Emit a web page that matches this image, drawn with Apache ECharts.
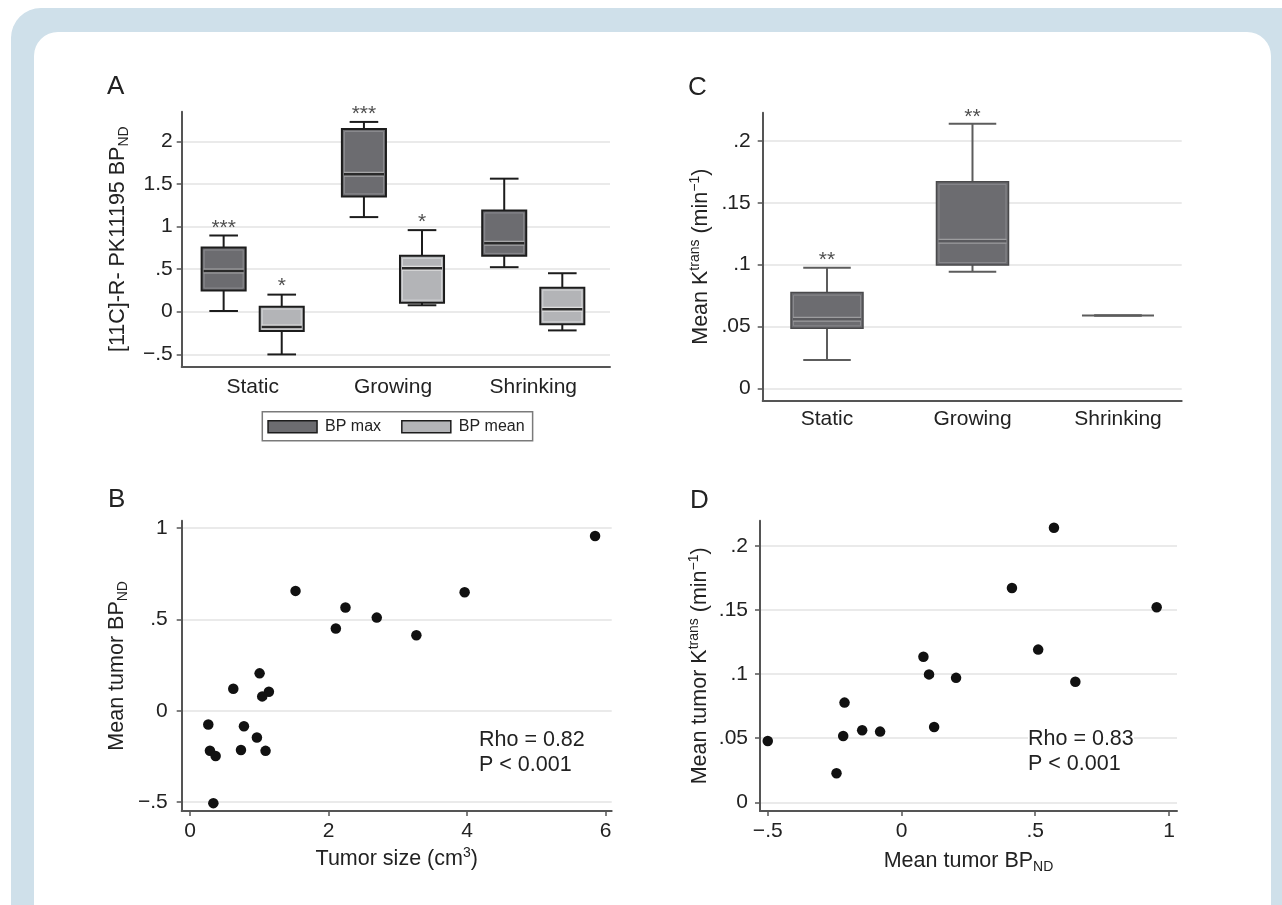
<!DOCTYPE html>
<html>
<head>
<meta charset="utf-8">
<script src="https://cdn.jsdelivr.net/npm/echarts@6/dist/echarts.min.js"></script>
<style>
  html, body { margin:0; padding:0; background:#ffffff; width:1282px; height:905px; overflow:hidden; }
  #outer { position:absolute; left:11px; top:8px; width:1320px; height:1000px; background:#cfe0ea; border-radius:30px; }
  #inner { position:absolute; left:33.5px; top:31.5px; width:1237.5px; height:1000px; background:#ffffff; border-radius:24px; }
  #chart { position:absolute; left:0; top:0; width:1282px; height:905px; }
</style>
</head>
<body>
<div id="outer"></div>
<div id="inner"></div>
<div id="chart"></div>
<script>
// ---------------- DATA ----------------
const categories = ['Static', 'Growing', 'Shrinking'];
// box summaries: [low whisker, Q1, median, Q3, high whisker]
const bpMax  = [[0.008, 0.247, 0.478, 0.753, 0.894], [1.11, 1.353, 1.612, 2.145, 2.227], [0.522, 0.655, 0.804, 1.188, 1.561]];
const bpMean = [[-0.502, -0.227, -0.18, 0.059, 0.2], [0.075, 0.106, 0.51, 0.655, 0.957], [-0.22, -0.149, 0.027, 0.282, 0.451]];
const ktransBox = [[0.0229, 0.0485, 0.0558, 0.0774, 0.0976], [0.0943, 0.0997, 0.1189, 0.167, 0.214], [0.0588, 0.0588, 0.0588, 0.0588, 0.0588]];
// significance marks: [category index, series (0 = BP max, 1 = BP mean), y value, text]
const starsA = [[0, 0, 1.04, '***'], [0, 1, 0.353, '*'], [1, 0, 2.38, '***'], [1, 1, 1.106, '*']];
const starsC = [[0, 0.1078, '**'], [1, 0.2232, '**']];
// panel B
const tumorSize = [5.85, 1.524, 3.966, 2.245, 2.697, 2.106, 3.269, 1.005, 0.625, 1.139, 1.043, 0.264, 0.779, 0.966, 0.288, 0.736, 1.091, 0.37, 0.337];
const meanBP_B  = [0.956, 0.656, 0.649, 0.565, 0.51, 0.45, 0.413, 0.205, 0.121, 0.104, 0.079, -0.075, -0.084, -0.146, -0.218, -0.214, -0.219, -0.247, -0.505];
// panel D
const meanBP_D = [0.57, 0.413, 0.954, 0.511, 0.082, 0.103, 0.204, 0.65, -0.213, 0.122, -0.147, -0.08, -0.218, -0.5, -0.243];
const ktrans_D = [0.214, 0.167, 0.152, 0.119, 0.1135, 0.0997, 0.097, 0.094, 0.0777, 0.0587, 0.0561, 0.0551, 0.0517, 0.0478, 0.0226];
// ticks
const yTicksA = [-0.5, 0, 0.5, 1, 1.5, 2];
const yLabelsA = ['\u2212.5', '0', '.5', '1', '1.5', '2'];
const yTicksK = [0, 0.05, 0.1, 0.15, 0.2];
const yLabelsK = ['0', '.05', '.1', '.15', '.2'];
const xTicksB = [0, 2, 4, 6];
const xLabelsB = ['0', '2', '4', '6'];
const yTicksB = [-0.5, 0, 0.5, 1];
const yLabelsB = ['\u2212.5', '0', '.5', '1'];
const xTicksD = [-0.5, 0, 0.5, 1];
const xLabelsD = ['\u2212.5', '0', '.5', '1'];
const statText = { B: ['Rho = 0.82', 'P < 0.001'], D: ['Rho = 0.83', 'P < 0.001'] };

// ---------------- STYLE ----------------
const FONT = '"Liberation Sans", Arial, Helvetica, sans-serif';
const TXT = '#222222';
const AXIS = '#555555';
const GRIDC = '#e3e3e3';

function labelFrom(ticks, labels) {
  return function (v) {
    for (let i = 0; i < ticks.length; i++) if (Math.abs(ticks[i] - v) < 1e-9) return labels[i];
    return '';
  };
}
const catFormatter = v => categories[Math.round(v) - 1] || '';

function valAxis(gi, min, max, ticks, fmt, margin, opts) {
  return Object.assign({
    type: 'value', gridIndex: gi, min: min, max: max,
    axisLine: { show: true, onZero: false, lineStyle: { color: AXIS, width: 2 } },
    axisTick: { show: true, length: 5, customValues: ticks, lineStyle: { color: AXIS, width: 1.5 } },
    axisLabel: { customValues: ticks, formatter: fmt, color: TXT, fontSize: 21, fontFamily: FONT, margin: margin },
    splitLine: { show: false }
  }, opts || {});
}

const richBase = {
  t: { fontSize: 21.5, color: TXT, fontFamily: FONT },
  s: { fontSize: 14, color: TXT, fontFamily: FONT, padding: [12, 0, 0, 0] },
  p: { fontSize: 14, color: TXT, fontFamily: FONT, padding: [0, 0, 12, 0] }
};

function boxRenderer(offset, boxW, capRatio, st) {
  return function (params, api) {
    const cx = api.value(0) + offset;
    const pLo = api.coord([cx, api.value(1)]);
    const pQ1 = api.coord([cx, api.value(2)]);
    const pMed = api.coord([cx, api.value(3)]);
    const pQ3 = api.coord([cx, api.value(4)]);
    const pHi = api.coord([cx, api.value(5)]);
    const w = api.size([boxW, 0])[0];
    const cw = w * capRatio;
    const x = pLo[0];
    const ch = [];
    const ln = (x1, y1, x2, y2, c, lw) => ({ type: 'line', shape: { x1, y1, x2, y2 }, style: { stroke: c, lineWidth: lw } });
    ch.push(ln(x, pQ3[1], x, pHi[1], st.whisker, st.wlw));
    ch.push(ln(x, pQ1[1], x, pLo[1], st.whisker, st.wlw));
    ch.push(ln(x - cw / 2, pHi[1], x + cw / 2, pHi[1], st.whisker, st.wlw));
    ch.push(ln(x - cw / 2, pLo[1], x + cw / 2, pLo[1], st.whisker, st.wlw));
    const h = pQ1[1] - pQ3[1];
    if (h > 1) {
      ch.push({ type: 'rect', shape: { x: x - w / 2, y: pQ3[1], width: w, height: h }, style: { fill: st.fill, stroke: st.stroke, lineWidth: st.lw } });
      ch.push({ type: 'rect', shape: { x: x - w / 2 + 2.5, y: pQ3[1] + 2.5, width: w - 5, height: Math.max(h - 5, 0) }, style: { fill: null, stroke: st.inner, lineWidth: 1 } });
      ch.push(ln(x - w / 2 + 2, pMed[1], x + w / 2 - 2, pMed[1], st.medLight, 5));
      ch.push(ln(x - w / 2 + 2, pMed[1], x + w / 2 - 2, pMed[1], st.medDark, 2.5));
    } else {
      ch.push(ln(x - w / 2, pMed[1], x + w / 2, pMed[1], st.whisker, st.wlw));
    }
    return { type: 'group', children: ch };
  };
}

const styleDark = { fill: '#6c6c70', stroke: '#1c1c1c', lw: 2, inner: '#8c8c90', medLight: '#a6a6a8', medDark: '#2a2a2a', whisker: '#1c1c1c', wlw: 2 };
const styleLight = { fill: '#b3b4b7', stroke: '#1c1c1c', lw: 2, inner: '#d3d4d6', medLight: '#dedede', medDark: '#2a2a2a', whisker: '#1c1c1c', wlw: 2 };
const styleC = { fill: '#6c6c70', stroke: '#4a4a4c', lw: 1.5, inner: '#89898d', medLight: '#9d9d9f', medDark: '#5a5a5e', whisker: '#5c5c5c', wlw: 2 };

const OFF_A = 0.207, BOXW_A = 0.314, BOXW_C = 0.495;

const boxData = arr => arr.map((d, i) => [i + 1].concat(d));

const option = {
  animation: false,
  backgroundColor: 'transparent',
  textStyle: { fontFamily: FONT },
  grid: [
    { left: 181.7, top: 111.7, width: 428.3, height: 255 },
    { left: 762.7, top: 112.7, width: 419, height: 288 },
    { left: 181.7, top: 520.7, width: 430, height: 290.3 },
    { left: 760, top: 520.7, width: 417, height: 290.3 }
  ],
  xAxis: [
    valAxis(0, 0.494, 3.547, [1, 2, 3], catFormatter, 10, { axisTick: { show: false, customValues: [1, 2, 3] } }),
    valAxis(1, 0.558, 3.438, [1, 2, 3], catFormatter, 8, { axisTick: { show: false, customValues: [1, 2, 3] } }),
    valAxis(2, -0.12, 6.09, xTicksB, labelFrom(xTicksB, xLabelsB), 10, {
      name: '{t|Tumor size (cm}{p|3}{t|)}', nameLocation: 'middle', nameGap: 35,
      nameTextStyle: { rich: richBase }
    }),
    valAxis(3, -0.529, 1.03, xTicksD, labelFrom(xTicksD, xLabelsD), 10, {
      name: '{t|Mean tumor BP}{s|ND}', nameLocation: 'middle', nameGap: 37,
      nameTextStyle: { rich: richBase }
    })
  ],
  yAxis: [
    valAxis(0, -0.646, 2.347, yTicksA, labelFrom(yTicksA, yLabelsA), 9, {
      splitLine: { show: true, lineStyle: { color: GRIDC, width: 1.5 } },
      name: '{t|[11C]-R- PK11195 BP}{s|ND}', nameLocation: 'middle', nameRotate: 90, nameGap: 51,
      nameTextStyle: { rich: richBase }
    }),
    valAxis(1, -0.01, 0.2229, yTicksK, labelFrom(yTicksK, yLabelsK), 12, {
      splitLine: { show: true, lineStyle: { color: GRIDC, width: 1.5 } },
      name: '{t|Mean K}{p|trans}{t| (min}{p|\u22121}{t|)}', nameLocation: 'middle', nameRotate: 90, nameGap: 49,
      nameTextStyle: { rich: richBase }
    }),
    valAxis(2, -0.548, 1.04, yTicksB, labelFrom(yTicksB, yLabelsB), 14, {
      splitLine: { show: true, lineStyle: { color: GRIDC, width: 1.5 } },
      name: '{t|Mean tumor BP}{s|ND}', nameLocation: 'middle', nameRotate: 90, nameGap: 52,
      nameTextStyle: { rich: richBase }
    }),
    valAxis(3, -0.0068, 0.2195, yTicksK, labelFrom(yTicksK, yLabelsK), 12, {
      splitLine: { show: true, lineStyle: { color: GRIDC, width: 1.5 } },
      name: '{t|Mean tumor K}{p|trans}{t| (min}{p|\u22121}{t|)}', nameLocation: 'middle', nameRotate: 90, nameGap: 47,
      nameTextStyle: { rich: richBase }
    })
  ],
  legend: {
    left: 262.3, top: 411.7, orient: 'horizontal', icon: 'rect',
    itemWidth: 49, itemHeight: 12, itemGap: 20,
    padding: [7, 8, 6, 5],
    borderColor: '#7a7a7a', borderWidth: 1.5, backgroundColor: '#ffffff',
    textStyle: { fontSize: 16, color: TXT, fontFamily: FONT, padding: [0, 0, 0, 3] },
    data: [
      { name: 'BP max', itemStyle: { color: styleDark.fill, borderColor: '#1c1c1c', borderWidth: 1.5 } },
      { name: 'BP mean', itemStyle: { color: styleLight.fill, borderColor: '#1c1c1c', borderWidth: 1.5 } }
    ]
  },
  graphic: [
    { type: 'text', z: 100, left: 107, top: 74, style: { text: 'A', fontSize: 26, fill: TXT, fontFamily: FONT } },
    { type: 'text', z: 100, left: 688, top: 75, style: { text: 'C', fontSize: 26, fill: TXT, fontFamily: FONT } },
    { type: 'text', z: 100, left: 108, top: 487, style: { text: 'B', fontSize: 26, fill: TXT, fontFamily: FONT } },
    { type: 'text', z: 100, left: 690, top: 488, style: { text: 'D', fontSize: 26, fill: TXT, fontFamily: FONT } },
    { type: 'text', z: 100, left: 479, top: 728, style: { text: statText.B.join('\n'), fontSize: 21.5, lineHeight: 25, fill: TXT, fontFamily: FONT } },
    { type: 'text', z: 100, left: 1028, top: 727, style: { text: statText.D.join('\n'), fontSize: 21.5, lineHeight: 25, fill: TXT, fontFamily: FONT, backgroundColor: '#ffffff' } }
  ],
  series: [
    {
      name: 'BP max', type: 'custom', xAxisIndex: 0, yAxisIndex: 0,
      renderItem: boxRenderer(-OFF_A, BOXW_A, 0.65, styleDark),
      itemStyle: { color: styleDark.fill },
      encode: { x: 0, y: [1, 2, 3, 4, 5] },
      data: boxData(bpMax)
    },
    {
      name: 'BP mean', type: 'custom', xAxisIndex: 0, yAxisIndex: 0,
      renderItem: boxRenderer(OFF_A, BOXW_A, 0.65, styleLight),
      itemStyle: { color: styleLight.fill },
      encode: { x: 0, y: [1, 2, 3, 4, 5] },
      data: boxData(bpMean)
    },
    {
      name: 'starsA', type: 'scatter', xAxisIndex: 0, yAxisIndex: 0, symbolSize: 0, clip: false, silent: true,
      label: { show: true, position: 'inside', offset: [0, 5], color: TXT, fontSize: 21, fontFamily: FONT, formatter: p => p.data.t },
      data: starsA.map(s => ({ value: [s[0] + 1 + (s[1] === 0 ? -OFF_A : OFF_A), s[2]], t: s[3] }))
    },
    {
      name: 'Ktrans', type: 'custom', xAxisIndex: 1, yAxisIndex: 1,
      renderItem: boxRenderer(0, BOXW_C, 0.66, styleC),
      itemStyle: { color: styleC.fill },
      encode: { x: 0, y: [1, 2, 3, 4, 5] },
      data: boxData(ktransBox)
    },
    {
      name: 'starsC', type: 'scatter', xAxisIndex: 1, yAxisIndex: 1, symbolSize: 0, clip: false, silent: true,
      label: { show: true, position: 'inside', offset: [0, 5], color: TXT, fontSize: 21, fontFamily: FONT, formatter: p => p.data.t },
      data: starsC.map(s => ({ value: [s[0] + 1, s[1]], t: s[2] }))
    },
    {
      name: 'B', type: 'scatter', xAxisIndex: 2, yAxisIndex: 2, symbolSize: 10.5,
      itemStyle: { color: '#111111', opacity: 1 },
      data: tumorSize.map((x, i) => [x, meanBP_B[i]])
    },
    {
      name: 'D', type: 'scatter', xAxisIndex: 3, yAxisIndex: 3, symbolSize: 10.5,
      itemStyle: { color: '#111111', opacity: 1 },
      data: meanBP_D.map((x, i) => [x, ktrans_D[i]])
    }
  ]
};

const chart = echarts.init(document.getElementById('chart'), null, { renderer: 'canvas' });
chart.setOption(option);
</script>
</body>
</html>
